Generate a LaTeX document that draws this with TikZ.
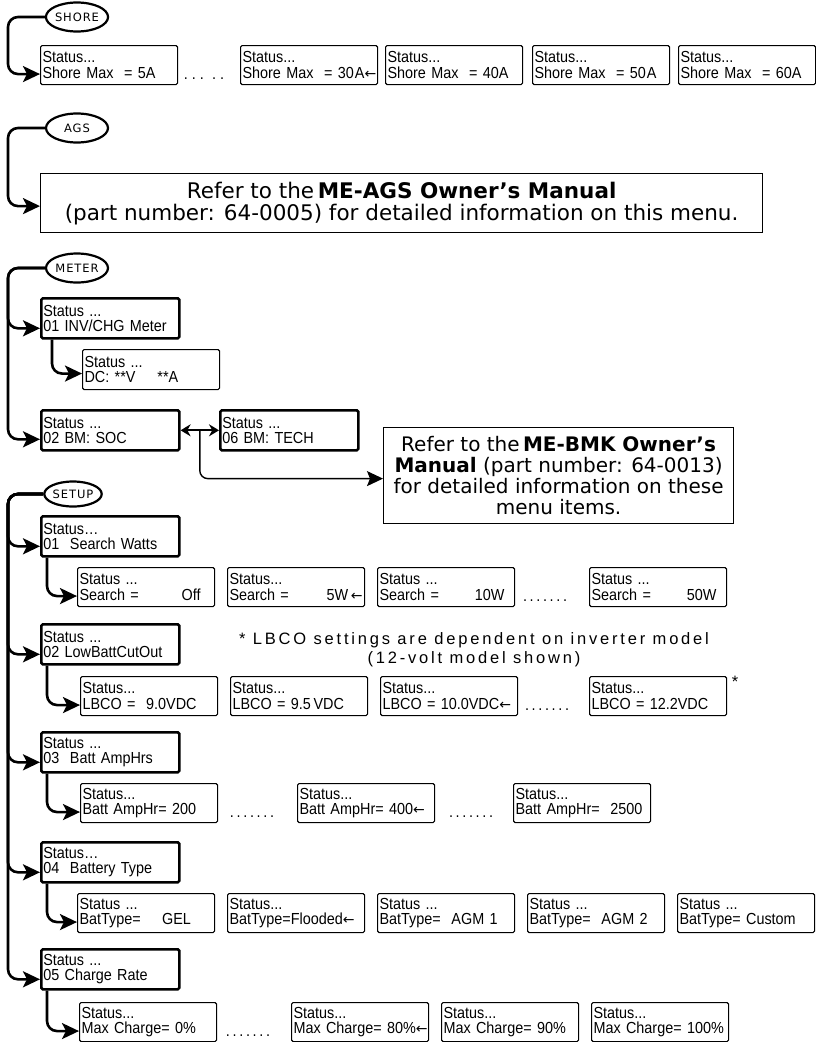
\documentclass[tikz,border=0pt]{standalone}
\usepackage{fontspec}
\usetikzlibrary{arrows.meta,shapes.geometric,calc,positioning}
\newfontfamily\boxfont[FakeStretch=0.9]{Liberation Sans}
\newfontfamily\tabfont[LetterSpace=8]{DejaVu Sans}
\newfontfamily\referfont{DejaVu Sans}
\newfontfamily\notefont[LetterSpace=17]{Liberation Sans}
\newfontfamily\symfont{DejaVu Sans}
\newcommand\selarrow{{\symfont\fontsize{14pt}{14pt}\selectfont ←}}
\newcommand\lowline[1]{\makebox[\linewidth][l]{#1}}
\tikzset{
  screen/.style={draw, rounded corners=1.5pt, line width=1.1pt, anchor=north west,
    minimum height=39pt, inner xsep=2pt, inner ysep=0pt, text width=133pt, align=left,
    font=\boxfont\fontsize{16pt}{15.5pt}\selectfont},
  menu/.style={screen, line width=2.6pt, text width=134pt, minimum height=40pt},
  tab/.style={draw, ellipse, line width=2.2pt, minimum width=62pt, minimum height=29pt,
    inner sep=0pt, font=\tabfont\fontsize{11.5pt}{12pt}\selectfont},
  feed/.style={line width=2.6pt, rounded corners=10pt,
    -{Stealth[length=17pt,width=16pt,inset=4pt]}},
  refer/.style={draw, line width=1.2pt, anchor=north west, align=center, inner sep=0pt,
    font=\referfont\fontsize{20pt}{21pt}\selectfont},
  dotrow/.style={font=\boxfont\fontsize{16pt}{14pt}\selectfont, inner sep=0pt},
  note/.style={align=center, inner sep=0pt, font=\notefont\fontsize{16.5pt}{19pt}\selectfont}
}
\begin{document}
\begin{tikzpicture}[x=1pt,y=-1pt]
  \useasboundingbox (0,0) rectangle (816,1042);
  \coordinate (trunk) at (8,0);
  % SHORE menu
  \node[tab] (shore) at (77,17) {SHORE};
  \node[screen] (sh5) at (40,45) {Status...\\\lowline{Shore Max\ \ = 5A}};
  \node[dotrow] (shdots) at (204,79) {.\ .\ .\ \ .\ .};
  \node[screen] (sh30) at (240,45) {Status...\\\lowline{Shore Max\ \ = 30\kern1pt A\selarrow}};
  \node[screen] (sh40) at (385,45) {Status...\\\lowline{Shore Max\ \ = 40A}};
  \node[screen] (sh50) at (532,45) {Status...\\\lowline{Shore Max\ \ = 50\kern1pt A}};
  \node[screen] (sh60) at (678,45) {Status...\\\lowline{Shore Max\ \ = 60A}};
  \draw[feed] (shore.west) -- (shore.west -| trunk) |- ([yshift=-9pt]sh5.west);
  % AGS menu
  \node[tab] (ags) at (77,128) {AGS};
  \node[refer, minimum width=722pt, minimum height=59pt,
    font=\referfont\fontsize{21.5pt}{22pt}\selectfont] (agsref) at (40,173)
    {Refer to the\,\textbf{ME-AGS Owner’s Manual}\\(part number: 64-0005) for detailed information on this menu.};
  \draw[feed] (ags.west) -- (ags.west -| trunk) |- ([yshift=-3pt]agsref.west);
  % METER menu
  \node[tab] (meter) at (77,268) {METER};
  \node[menu] (m01) at (40,297) {Status ...\\\lowline{01 INV/CHG Meter}};
  \node[screen, minimum height=40pt] (mdc) at (82,349) {Status ...\\\lowline{DC: **V\hspace{22pt}**A}};
  \node[menu] (m02) at (40,409) {Status ...\\\lowline{02 BM: SOC}};
  \node[menu] (m06) at (219,409) {Status ...\\\lowline{06 BM: TECH}};
  \node[refer, minimum width=350pt, minimum height=96pt] (bmk) at (383,427)
    {Refer to the\,\textbf{ME-BMK Owner’s}\\\textbf{Manual} (part number: 64-0013)\\for detailed information on these\\menu items.};
  \draw[feed] (meter.west) -- (meter.west -| trunk) |- ([yshift=-10pt]m01.west);
  \draw[feed] (meter.west) -- (meter.west -| trunk) |- ([yshift=-9pt]m02.west);
  \draw[feed] ([xshift=12pt]m01.south west) |- ([yshift=-4pt]mdc.west);
  \draw[{Stealth[length=10pt,width=12pt]}-{Stealth[length=10pt,width=12pt]}, line width=1.8pt]
    (m02.east) -- (m06.west);
  \coordinate (bmfork) at ($(m02.east)!0.5!(m06.west)$);
  \draw[line width=1.4pt, rounded corners=8pt, -{Stealth[length=16pt,width=15pt,inset=3pt]}]
    (bmfork) |- ([yshift=-3pt]bmk.west);
  % SETUP menu
  \node[tab, minimum width=56pt, minimum height=25pt] (setup) at (73,494) {SETUP};
  \node[menu] (st01) at (40,515) {Status…\\\lowline{01\ \ Search Watts}};
  \node[screen] (swOff) at (77,567) {Status ...\\\lowline{Search =\hfill Off\hspace*{12pt}}};
  \node[screen] (sw5) at (227,567) {Status...\\\lowline{Search =\hfill 5W\,\selarrow}};
  \node[screen] (sw10) at (377,567) {Status ...\\\lowline{Search =\hfill 10W\hspace*{8pt}}};
  \node[dotrow] (swdots) at (545,601) {.\,.\,.\,.\,.\,.\,.};
  \node[screen] (sw50) at (589,567) {Status ...\\\lowline{Search =\hfill 50W\hspace*{8pt}}};
  \node[note] (lbconote) at (474,650) {* LBCO settings are dependent on inverter model\\(12-volt model shown)};
  \node[menu] (st02) at (40,623) {Status ...\\\lowline{02 LowBattCutOut}};
  \node[screen] (lb90) at (80,676) {Status...\\\lowline{LBCO =\ \ 9.0VDC}};
  \node[screen] (lb95) at (230,676) {Status...\\\lowline{LBCO = 9.5\,VDC}};
  \node[screen] (lb100) at (380,676) {Status...\\\lowline{LBCO = 10.0VDC\selarrow}};
  \node[dotrow] (lbdots) at (547,710) {.\,.\,.\,.\,.\,.\,.};
  \node[screen] (lb122) at (589,676) {Status...\\\lowline{LBCO = 12.2VDC}};
  \node[note] (lbstar) at (735,682) {*};
  \node[menu] (st03) at (40,731) {Status ...\\\lowline{03\ \ Batt AmpHrs}};
  \node[screen] (ah200) at (80,783) {Status...\\\lowline{Batt AmpHr= 200}};
  \node[dotrow] (ahdotsA) at (252,817) {.\,.\,.\,.\,.\,.\,.};
  \node[screen] (ah400) at (297,783) {Status...\\\lowline{Batt AmpHr= 400\selarrow}};
  \node[dotrow] (ahdotsB) at (471,817) {.\,.\,.\,.\,.\,.\,.};
  \node[screen] (ah2500) at (513,783) {Status...\\\lowline{Batt AmpHr=\ \ 2500}};
  \node[menu] (st04) at (40,841) {Status…\\\lowline{04\ \ Battery Type}};
  \node[screen] (btGel) at (77,893) {Status ...\\\lowline{BatType=\ \ \ \ GEL}};
  \node[screen] (btFlood) at (227,893) {Status...\\\lowline{BatType=Flooded\selarrow}};
  \node[screen] (btAgmA) at (377,893) {Status ...\\\lowline{BatType=\ \ AGM 1}};
  \node[screen] (btAgmB) at (527,893) {Status ...\\\lowline{BatType=\ \ AGM 2}};
  \node[screen] (btCustom) at (677,893) {Status ...\\\lowline{BatType= Custom}};
  \node[menu] (st05) at (40,948) {Status ...\\\lowline{05 Charge Rate}};
  \node[screen] (mc0) at (79,1002) {Status...\\\lowline{Max Charge= 0\%}};
  \node[dotrow] (mcdots) at (248,1036) {.\,.\,.\,.\,.\,.\,.};
  \node[screen] (mc80) at (291,1002) {Status...\\\lowline{Max Charge= 80\%\selarrow}};
  \node[screen] (mc90) at (441,1002) {Status...\\\lowline{Max Charge= 90\%}};
  \node[screen] (mc100) at (591,1002) {Status...\\\lowline{Max Charge= 100\%}};
  \foreach \m in {st01,st02,st03,st04,st05}
    \draw[feed] (setup.west) -- (setup.west -| trunk) |- ([yshift=-10pt]\m.west);
  \foreach \m/\c in {st01/swOff,st02/lb90,st03/ah200,st04/btGel,st05/mc0}
    \draw[feed] ([xshift=7pt]\m.south west) |- ([yshift=-9pt]\c.west);
\end{tikzpicture}
\end{document}
